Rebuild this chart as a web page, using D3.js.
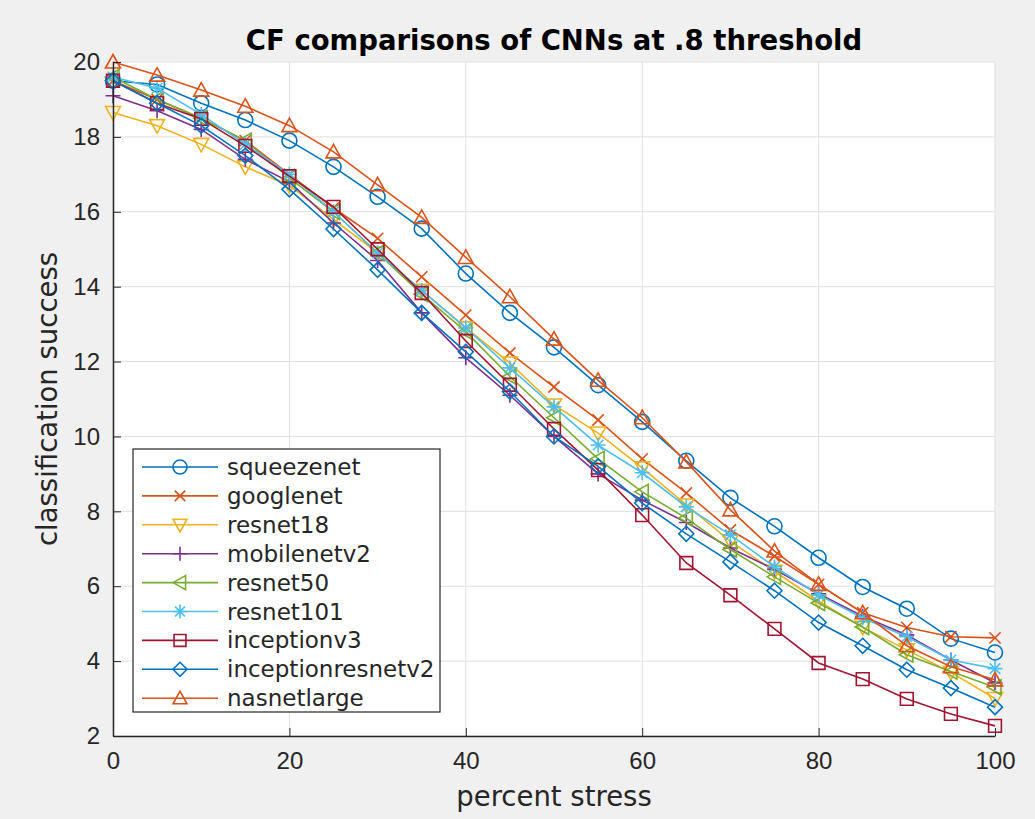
<!DOCTYPE html>
<meta charset="utf-8">
<html>
<head>
<style>
  body { margin: 0; background: #f0f0f0; }
  svg { display: block; font-family: "DejaVu Sans", sans-serif; }
  .grid line { stroke: #dfdfdf; stroke-width: 1; }
  .axis text { fill: #262626; font-size: 24px; }
  .axis path, .axis line { stroke: #262626; }
</style>
</head>
<body>
<div id="chart"></div>

<script src="https://d3js.org/d3.v7.min.js"></script>
<script>

// percent stress levels
var stress = [0,5,10,15,20,25,30,35,40,45,50,55,60,65,70,75,80,85,90,95,100];

var squeezenet        = [19.5,19.4,18.9,18.45,17.9,17.2,16.4,15.55,14.35,13.3,12.38,11.37,10.39,9.35,8.36,7.6,6.76,5.98,5.4,4.6,4.23];
var googlenet         = [19.5,19.0,18.5,17.9,17.0,16.1,15.29,14.26,13.24,12.23,11.32,10.44,9.4,8.49,7.5,6.8,6.05,5.29,4.9,4.65,4.62];
var resnet18          = [18.65,18.3,17.8,17.2,16.7,15.8,14.9,13.9,12.9,11.96,10.84,10.09,9.16,8.17,7.2,6.4,5.6,4.9,4.3,3.7,3.0];
var mobilenetv2       = [19.1,18.7,18.2,17.4,16.8,15.7,14.7,13.3,12.1,11.1,10.0,9.0,8.3,7.7,7.02,6.45,5.8,5.2,4.7,4.03,3.42];
var resnet50          = [19.6,19.0,18.5,17.9,16.9,16.0,14.9,13.8,12.8,11.6,10.5,9.4,8.52,7.82,6.98,6.25,5.55,4.91,4.17,3.72,3.3];
var resnet101         = [19.6,19.3,18.6,17.8,17.0,16.0,14.9,13.9,12.9,11.83,10.79,9.77,9.03,8.12,7.37,6.52,5.77,5.15,4.65,4.03,3.8];
var inceptionv3       = [19.5,18.9,18.48,17.76,16.95,16.13,15.0,13.83,12.55,11.38,10.2,9.1,7.9,6.62,5.76,4.86,3.95,3.52,2.99,2.59,2.27];
var inceptionresnetv2 = [19.5,18.9,18.3,17.5,16.6,15.54,14.45,13.3,12.26,11.2,10.0,9.2,8.22,7.4,6.65,5.88,5.03,4.41,3.77,3.28,2.77];
var nasnetlarge       = [20.0,19.65,19.25,18.82,18.3,17.6,16.72,15.85,14.78,13.73,12.6,11.5,10.5,9.32,8.04,6.94,6.05,5.29,4.41,3.85,3.5];

var names   = ["squeezenet","googlenet","resnet18","mobilenetv2","resnet50","resnet101","inceptionv3","inceptionresnetv2","nasnetlarge"];
var values  = [squeezenet,googlenet,resnet18,mobilenetv2,resnet50,resnet101,inceptionv3,inceptionresnetv2,nasnetlarge];
var colors  = ["#0072BD","#D95319","#EDB120","#7E2F8E","#77AC30","#4DBEEE","#A2142F","#0072BD","#D95319"];
var markers = ["circle","x","triDown","plus","triLeft","star","square","diamond","triUp"];

var xTicks = [0,20,40,60,80,100];
var yTicks = [2,4,6,8,10,12,14,16,18,20];

var W = 1035, H = 819;
var margin = {left: 113, right: 40, top: 62, bottom: 83};

var svg = d3.select("#chart").append("svg")
    .attr("width", W)
    .attr("height", H);

var x = d3.scaleLinear().domain([0,100]).range([margin.left, W - margin.right]);
var y = d3.scaleLinear().domain([2,20]).range([H - margin.bottom, margin.top]);

// plot background
svg.append("rect")
    .attr("x", x(0)).attr("y", y(20))
    .attr("width", x(100) - x(0)).attr("height", y(2) - y(20))
    .attr("fill", "#fff");

// grid
var grid = svg.append("g").attr("class", "grid");
grid.selectAll(".gx").data(xTicks).enter().append("line")
    .attr("x1", function(d){ return x(d); }).attr("x2", function(d){ return x(d); })
    .attr("y1", y(2)).attr("y2", y(20));
grid.selectAll(".gy").data(yTicks).enter().append("line")
    .attr("y1", function(d){ return y(d); }).attr("y2", function(d){ return y(d); })
    .attr("x1", x(0)).attr("x2", x(100));

// marker paths, h = half size
function markerPath(type, h) {
  var p = d3.path();
  switch (type) {
    case "circle":
      p.moveTo(h, 0); p.arc(0, 0, h, 0, 2*Math.PI); break;
    case "x":
      var a = h*0.75;
      p.moveTo(-a,-a); p.lineTo(a,a); p.moveTo(-a,a); p.lineTo(a,-a); break;
    case "plus":
      p.moveTo(-h,0); p.lineTo(h,0); p.moveTo(0,-h); p.lineTo(0,h); break;
    case "star":
      var b = h*0.7;
      p.moveTo(-h,0); p.lineTo(h,0); p.moveTo(0,-h); p.lineTo(0,h);
      p.moveTo(-b,-b); p.lineTo(b,b); p.moveTo(-b,b); p.lineTo(b,-b); break;
    case "square":
      var s = h*0.85;
      p.rect(-s,-s,2*s,2*s); break;
    case "diamond":
      p.moveTo(0,-h); p.lineTo(h,0); p.lineTo(0,h); p.lineTo(-h,0); p.closePath(); break;
    case "triUp":
      p.moveTo(0,-h); p.lineTo(h,h*0.8); p.lineTo(-h,h*0.8); p.closePath(); break;
    case "triDown":
      p.moveTo(0,h); p.lineTo(h,-h*0.8); p.lineTo(-h,-h*0.8); p.closePath(); break;
    case "triLeft":
      p.moveTo(-h,0); p.lineTo(h*0.8,-h); p.lineTo(h*0.8,h); p.closePath(); break;
  }
  return p.toString();
}

var line = d3.line()
    .x(function(d){ return x(d[0]); })
    .y(function(d){ return y(d[1]); });

var series = names.map(function(n, i){
  return { name: n, color: colors[i], marker: markers[i],
           pts: stress.map(function(s, j){ return [s, values[i][j]]; }) };
});

var plot = svg.append("g");
series.forEach(function(s){
  var g = plot.append("g");
  g.append("path")
      .attr("d", line(s.pts))
      .attr("fill", "none")
      .attr("stroke", s.color)
      .attr("stroke-width", 1.6);
  g.selectAll(".m").data(s.pts).enter().append("path")
      .attr("transform", function(d){ return "translate(" + x(d[0]) + "," + y(d[1]) + ")"; })
      .attr("d", markerPath(s.marker, 7.5))
      .attr("fill", "none")
      .attr("stroke", s.color)
      .attr("stroke-width", 1.6);
});

// axes (ticks inward, no box)
var xAxis = svg.append("g").attr("class", "axis")
    .attr("transform", "translate(0," + y(2) + ")")
    .call(d3.axisBottom(x).tickValues(xTicks).tickSizeInner(-8).tickSizeOuter(0).tickPadding(16));
var yAxis = svg.append("g").attr("class", "axis")
    .attr("transform", "translate(" + x(0) + ",0)")
    .call(d3.axisLeft(y).tickValues(yTicks).tickSizeInner(-8).tickSizeOuter(0).tickPadding(13));
svg.selectAll(".axis .domain").attr("stroke-width", 1.5);

// title & labels
svg.append("text")
    .attr("x", (x(0) + x(100)) / 2).attr("y", 50)
    .attr("text-anchor", "middle")
    .attr("font-size", "27.5px").attr("font-weight", "bold")
    .attr("fill", "#000")
    .text("CF comparisons of CNNs at .8 threshold");

svg.append("text")
    .attr("x", (x(0) + x(100)) / 2).attr("y", 806)
    .attr("text-anchor", "middle")
    .attr("font-size", "27.5px").attr("fill", "#262626")
    .text("percent stress");

svg.append("text")
    .attr("transform", "translate(57," + (y(2) + y(20)) / 2 + ") rotate(-90)")
    .attr("text-anchor", "middle")
    .attr("font-size", "27.5px").attr("fill", "#262626")
    .text("classification success");

// legend
var lg = svg.append("g").attr("transform", "translate(133,449)");
lg.append("rect")
    .attr("width", 307).attr("height", 263)
    .attr("fill", "#fff").attr("stroke", "#262626").attr("stroke-width", 1.2);
var rows = lg.selectAll(".row").data(series).enter().append("g")
    .attr("transform", function(d, i){ return "translate(0," + (18 + i * 28.9) + ")"; });
rows.append("line")
    .attr("x1", 9).attr("x2", 85)
    .attr("stroke", function(d){ return d.color; })
    .attr("stroke-width", 1.6);
rows.append("path")
    .attr("transform", "translate(47,0)")
    .attr("d", function(d){ return markerPath(d.marker, 7); })
    .attr("fill", "none")
    .attr("stroke", function(d){ return d.color; })
    .attr("stroke-width", 1.6);
rows.append("text")
    .attr("x", 94).attr("dy", "0.35em")
    .attr("font-size", "23px").attr("fill", "#262626")
    .text(function(d){ return d.name; });

</script>
</body>
</html>
